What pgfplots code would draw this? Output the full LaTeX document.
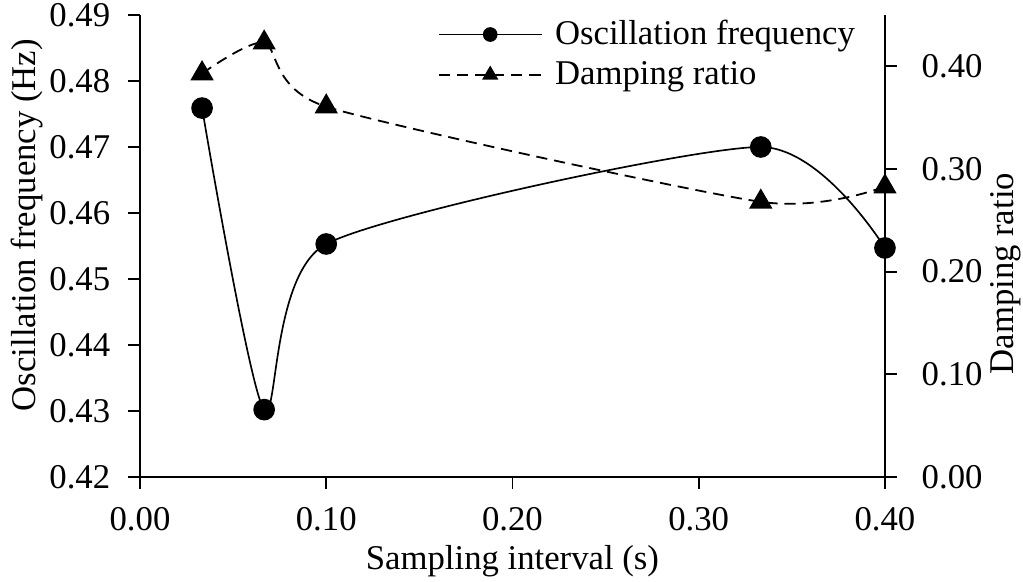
\documentclass[border=0pt]{standalone}
\usepackage{fontspec}
\setmainfont{Liberation Serif}
\usepackage{pgfplots}
\pgfplotsset{compat=1.18}
\pgfplotstableread{
x y
0.03333 0.4759
0.06667 0.4302
0.1 0.4553
0.33333 0.4700
0.4 0.4547
}\freqdata
\pgfplotstableread{
x y
0.03333 0.393
0.06667 0.423
0.1 0.3607
0.33333 0.268
0.4 0.2828
}\dampdata
\newcommand{\ff}{\fontsize{12.5}{15}\selectfont}
\begin{document}
\begin{tikzpicture}[font=\ff]
\useasboundingbox (-50.4pt,-37.8pt) rectangle (317.9pt,171.7pt);
\pgfplotsset{
  common/.style={
    scale only axis, width=268.2pt, height=166.3pt,
    xmin=0, xmax=0.4,
    tick align=outside, major tick length=4.3pt,
    axis line style={line width=0.7pt},
    every tick/.style={line width=0.7pt, black},
    /pgf/number format/fixed,
    /pgf/number format/fixed zerofill,
    /pgf/number format/precision=2,
    /pgf/number format/assume math mode=true,
    tick label style={font=\ff},
    label style={font=\ff},
  },
}
\begin{axis}[common,
  ymin=0.42, ymax=0.49,
  axis y line*=left, axis x line*=bottom,
  xtick={0,0.1,0.2,0.3,0.4},
  ytick={0.42,0.43,0.44,0.45,0.46,0.47,0.48,0.49},
  xticklabel style={yshift=-3.2pt},
  yticklabel style={xshift=-2.9pt},
  xlabel={Sampling interval (s)},
  ylabel={Oscillation frequency (Hz)},
  xlabel style={at={(axis description cs:0.5,-0.182)}, anchor=center},
  ylabel style={at={(axis description cs:-0.152,0.545)}, anchor=center},
]
\addplot[black, line width=0.6pt, smooth, tension=0.4, mark=*, mark size=3.6pt] table[x=x,y=y] {\freqdata};
\end{axis}
\begin{axis}[common,
  ymin=0, ymax=0.45,
  axis y line*=right, axis x line=none,
  ytick={0,0.1,0.2,0.3,0.4},
  yticklabel style={xshift=5.4pt},
  ylabel={Damping ratio},
  ylabel style={at={(axis description cs:1.162,0.44)}, anchor=center},
  legend style={at={(axis description cs:0.979,1.014)}, anchor=north east,
    draw=none, fill=none, font=\ff, row sep=0.5pt,
    /tikz/every odd column/.append style={column sep=2.5pt}},
  legend cell align=left,
  legend image code/.code={
    \draw[mark repeat=2, mark phase=2, #1, every mark/.append style={scale=0.65}]
      plot coordinates {(0pt,0pt) (18.5pt,0pt) (37pt,0pt)};
  },
]
\addlegendimage{black, line width=0.6pt, mark=*, mark size=3.6pt}
\addlegendentry{Oscillation frequency}
\addplot[black, line width=0.65pt, dash pattern=on 4pt off 2.5pt, smooth, tension=0.4,
  mark=triangle*, mark size=4.2pt, mark options={solid}] table[x=x,y=y] {\dampdata};
\addlegendentry{Damping ratio}
\end{axis}
\end{tikzpicture}
\end{document}
